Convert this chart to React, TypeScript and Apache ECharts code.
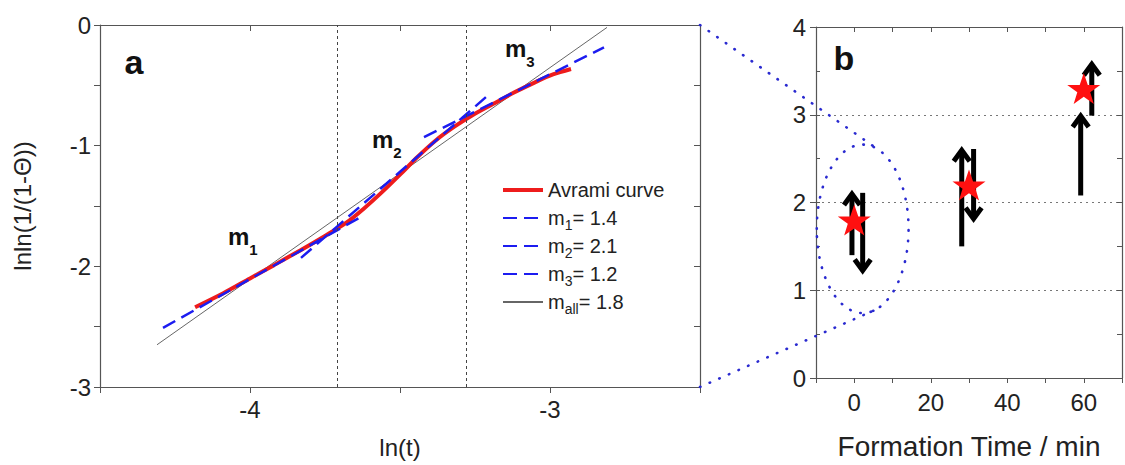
import React, { useEffect, useRef } from "react";
import * as echarts from "echarts";

// ---------- Panel a data ----------
const avramiX = [-4.183, -4.089, -4.0, -3.92, -3.83, -3.75, -3.68, -3.62, -3.56, -3.5, -3.44, -3.38, -3.32, -3.26, -3.19, -3.12, -3.05, -2.99, -2.93];
const avramiY = [-2.339, -2.223, -2.1, -1.99, -1.864, -1.748, -1.64, -1.52, -1.385, -1.24, -1.09, -0.955, -0.845, -0.75, -0.655, -0.56, -0.475, -0.41, -0.365];
const m1Line = [[-4.29, -2.51], [-3.63, -1.59]];
const m2Line = [[-3.83, -1.93], [-3.21, -0.59]];
const m3Line = [[-3.42, -0.93], [-2.82, -0.185]];
const mAllLine = [[-4.31, -2.65], [-2.81, -0.02]];
const regionBounds = [-3.713, -3.283];
const slopeNames = ["m1", "m2", "m3", "mall"];
const slopeSubs = ["1", "2", "3", "all"];
const slopeValues = ["1.4", "2.1", "1.2", "1.8"];

// ---------- Panel b data ----------
const formationTime = [0, 30, 60];
const avramiExponent = [1.8, 2.2, 3.3];
const arrowX = [-0.6, 2.2, 28.1, 31.2, 59.2, 62.1];
const arrowFrom = [1.4, 2.11, 1.5, 2.61, 2.08, 2.99];
const arrowTo = [2.13, 1.19, 2.63, 1.78, 3.02, 3.61];

const FONT = "'Liberation Sans', Arial, Helvetica, sans-serif";
const STAR =
  "path://M50,0 L61.8,35.1 L98.1,35.1 L68.8,56.7 L79.4,91 L50,70 L20.6,91 L31.2,56.7 L1.9,35.1 L38.2,35.1 Z";

export default function App() {
  const ref = useRef<HTMLDivElement>(null);

  useEffect(() => {
    document.body.style.margin = "0";
    const el = ref.current!;
    const chart = echarts.init(el, undefined, { renderer: "svg" });

    const axisLine = { show: true, onZero: false, lineStyle: { color: "#555", width: 1.2 } };
    const label = { color: "#222", fontSize: 24, fontFamily: FONT };
    const blueDash = { color: "#1c1cf0", width: 2.5, type: [14, 7] as any };

    const option: any = {
      animation: false,
      backgroundColor: "#fff",
      grid: [
        { left: 100, top: 25, width: 600, height: 362 },
        { left: 816, top: 27, width: 310, height: 360 },
      ],
      xAxis: [
        {
          type: "value", gridIndex: 0, min: -4.5, max: -2.5, interval: 0.5, position: "bottom",
          axisLine, axisTick: { show: true, length: 6, lineStyle: { color: "#555" } },
          splitLine: { show: false },
          axisLabel: { ...label, margin: 10, formatter: (v: number) => (v === -4 || v === -3 ? String(v) : "") },
          name: "ln(t)", nameLocation: "middle", nameGap: 48,
          nameTextStyle: { fontSize: 24, fontFamily: FONT, color: "#222" },
        },
        {
          type: "value", gridIndex: 0, min: -4.5, max: -2.5, interval: 0.5, position: "top",
          axisLine, axisTick: { show: true, inside: true, length: 6, lineStyle: { color: "#555" } },
          axisLabel: { show: false }, splitLine: { show: false },
        },
        {
          type: "value", gridIndex: 1, min: -10, max: 70, interval: 10, position: "bottom",
          axisLine, axisTick: { show: true, length: 5, lineStyle: { color: "#555" } },
          splitLine: { show: false },
          axisLabel: { ...label, margin: 12, formatter: (v: number) => (v >= 0 && v <= 60 && v % 20 === 0 ? String(v) : "") },
          name: "Formation Time / min", nameLocation: "middle", nameGap: 54,
          nameTextStyle: { fontSize: 28, fontFamily: FONT, color: "#222" },
        },
        {
          type: "value", gridIndex: 1, min: -10, max: 70, interval: 10, position: "top",
          axisLine, axisTick: { show: true, inside: true, length: 5, lineStyle: { color: "#555" } },
          axisLabel: { show: false }, splitLine: { show: false },
        },
      ],
      yAxis: [
        {
          type: "value", gridIndex: 0, min: -3, max: 0, interval: 0.5, position: "left",
          axisLine, axisTick: { show: true, length: 6, lineStyle: { color: "#555" } },
          splitLine: { show: false },
          axisLabel: { ...label, margin: 9, formatter: (v: number) => (Number.isInteger(v) ? String(v) : "") },
          name: "lnln(1/(1-Θ))", nameLocation: "middle", nameGap: 66, nameRotate: 90,
          nameTextStyle: { fontSize: 24, fontFamily: FONT, color: "#222" },
        },
        {
          type: "value", gridIndex: 0, min: -3, max: 0, interval: 0.5, position: "right",
          axisLine, axisTick: { show: true, inside: true, length: 6, lineStyle: { color: "#555" } },
          axisLabel: { show: false }, splitLine: { show: false },
        },
        {
          type: "value", gridIndex: 1, min: 0, max: 4, interval: 1, position: "left",
          axisLine, axisTick: { show: true, length: 6, lineStyle: { color: "#555" } },
          splitLine: { show: true, lineStyle: { color: "#777", type: [2, 4], width: 1 } },
          axisLabel: { ...label, margin: 10 },
        },
        {
          type: "value", gridIndex: 1, min: 0, max: 4, interval: 0.5, position: "right",
          axisLine, axisTick: { show: true, inside: true, length: 5, lineStyle: { color: "#555" } },
          axisLabel: { show: false }, splitLine: { show: false },
        },
        {
          type: "value", gridIndex: 1, min: 0, max: 4, interval: 0.5, position: "left",
          axisLine: { show: false, onZero: false }, axisTick: { show: true, inside: true, length: 4, lineStyle: { color: "#555" } },
          axisLabel: { show: false }, splitLine: { show: false },
        },
      ],
      legend: {
        orient: "vertical",
        left: 501,
        top: 176,
        padding: 0,
        itemGap: 0,
        itemWidth: 40,
        itemHeight: 10,
        selectedMode: false,
        itemStyle: { opacity: 0, borderWidth: 0 },
        data: [
          { name: "Avrami curve", lineStyle: { width: 4 } },
          ...slopeNames.map((n) => ({ name: n })),
        ],
        formatter: (name: string) => {
          const i = slopeNames.indexOf(name);
          if (i < 0) return name;
          return `m{s|${slopeSubs[i]}}= ${slopeValues[i]}`;
        },
        textStyle: {
          fontSize: 20, fontFamily: FONT, color: "#222", lineHeight: 28,
          rich: { s: { fontSize: 14, fontFamily: FONT, color: "#222", lineHeight: 14, verticalAlign: "bottom" } },
        },
      },
      series: [
        {
          name: "mall", type: "line", xAxisIndex: 0, yAxisIndex: 0, data: mAllLine,
          symbol: "none", lineStyle: { color: "#666", width: 1 }, itemStyle: { color: "#666" }, z: 2,
          markLine: {
            silent: true, symbol: "none", label: { show: false },
            lineStyle: { color: "#444", width: 1, type: [3, 3] },
            data: regionBounds.map((x) => ({ xAxis: x })),
          },
        },
        {
          name: "Avrami curve", type: "line", xAxisIndex: 0, yAxisIndex: 0,
          data: avramiX.map((x, i) => [x, avramiY[i]]), smooth: 0.3,
          symbol: "none", lineStyle: { color: "#ee1c1c", width: 4 }, itemStyle: { color: "#ee1c1c" }, z: 3,
        },
        ...[m1Line, m2Line, m3Line].map((d, i) => ({
          name: slopeNames[i], type: "line", xAxisIndex: 0, yAxisIndex: 0, data: d,
          symbol: "none", lineStyle: blueDash, itemStyle: { color: "#1c1cf0" }, z: 4,
        })),
        {
          name: "arrows", type: "custom", xAxisIndex: 2, yAxisIndex: 2,
          data: arrowX.map((x, i) => [x, arrowFrom[i], arrowTo[i]]),
          renderItem: (params: any, api: any) => {
            const x = api.value(0);
            const p0 = api.coord([x, api.value(1)]);
            const p1 = api.coord([x, api.value(2)]);
            const dir = p1[1] < p0[1] ? -1 : 1;
            const hw = 8, hl = 11, tipInset = 3;
            const tip = [p1[0], p1[1] - dir * tipInset];
            return {
              type: "group",
              children: [
                { type: "line", shape: { x1: p0[0], y1: p0[1], x2: tip[0], y2: tip[1] - dir * 2 }, style: { stroke: "#000", lineWidth: 5 } },
                {
                  type: "polyline",
                  shape: { points: [[tip[0] - hw, tip[1] - dir * hl], tip, [tip[0] + hw, tip[1] - dir * hl]] },
                  style: { stroke: "#000", lineWidth: 5, fill: null, lineJoin: "miter" },
                },
              ],
            };
          },
          z: 3,
        },
        {
          name: "Avrami exponent", type: "scatter", xAxisIndex: 2, yAxisIndex: 2,
          data: formationTime.map((t, i) => [t, avramiExponent[i]]),
          symbol: STAR, symbolSize: [33, 31], itemStyle: { color: "#ff1010", opacity: 1 }, z: 5,
        },
      ],
    };

    chart.setOption(option);

    // overlay annotations
    const toB = (p: number[]) => chart.convertToPixel({ xAxisIndex: 2, yAxisIndex: 2 }, p) as number[];
    const toA = (p: number[]) => chart.convertToPixel({ xAxisIndex: 0, yAxisIndex: 0 }, p) as number[];
    const c = toB([2.2, 1.7]);
    const rx = toB([14.2, 1.7])[0] - c[0];
    const ry = c[1] - toB([2.2, 2.66])[1];
    const cornerTop = toA([-2.5, 0]);
    const cornerBot = toA([-2.5, -3]);
    const tangents = (P: number[]) => {
      const px = (P[0] - c[0]) / rx, py = (P[1] - c[1]) / ry;
      const d = Math.hypot(px, py);
      const base = Math.atan2(py, px);
      const off = Math.acos(1 / d);
      return [base + off, base - off].map((t) => [c[0] + rx * Math.cos(t), c[1] + ry * Math.sin(t)]);
    };
    const tTop = tangents(cornerTop).sort((a, b) => a[1] - b[1])[0];
    const tBot = tangents(cornerBot).sort((a, b) => b[1] - a[1])[0];
    const dotted = { stroke: "#2a2ad0", lineWidth: 2.6, lineDash: [0.5, 10], lineCap: "round", fill: null };

    const mText = (sub: string, x: number, y: number) => ({
      type: "text", x, y, z: 10,
      style: {
        text: `m{s|${sub}}`, fontSize: 24, fontWeight: "bold", fontFamily: FONT, fill: "#111",
        lineHeight: 42, align: "left", verticalAlign: "middle",
        rich: { s: { fontSize: 15, fontWeight: "bold", fontFamily: FONT, fill: "#111", lineHeight: 15, verticalAlign: "bottom" } },
      },
    });

    chart.setOption({
      graphic: [
        { type: "line", shape: { x1: cornerTop[0], y1: cornerTop[1], x2: tTop[0], y2: tTop[1] }, style: dotted, z: 1 },
        { type: "line", shape: { x1: cornerBot[0], y1: cornerBot[1], x2: tBot[0], y2: tBot[1] }, style: dotted, z: 1 },
        { type: "ellipse", shape: { cx: c[0], cy: c[1], rx, ry }, style: dotted, z: 1 },
        { type: "text", x: 134, y: 62, z: 10, style: { text: "a", fontSize: 34, fontWeight: "bold", fontFamily: FONT, fill: "#111", align: "center", verticalAlign: "middle" } },
        { type: "text", x: 844, y: 58, z: 10, style: { text: "b", fontSize: 34, fontWeight: "bold", fontFamily: FONT, fill: "#111", align: "center", verticalAlign: "middle" } },
        mText("1", 228, 236),
        mText("2", 372, 139),
        mText("3", 505, 48),
      ],
    });

    return () => chart.dispose();
  }, []);

  return <div ref={ref} style={{ width: 1125, height: 465 }} />;
}
